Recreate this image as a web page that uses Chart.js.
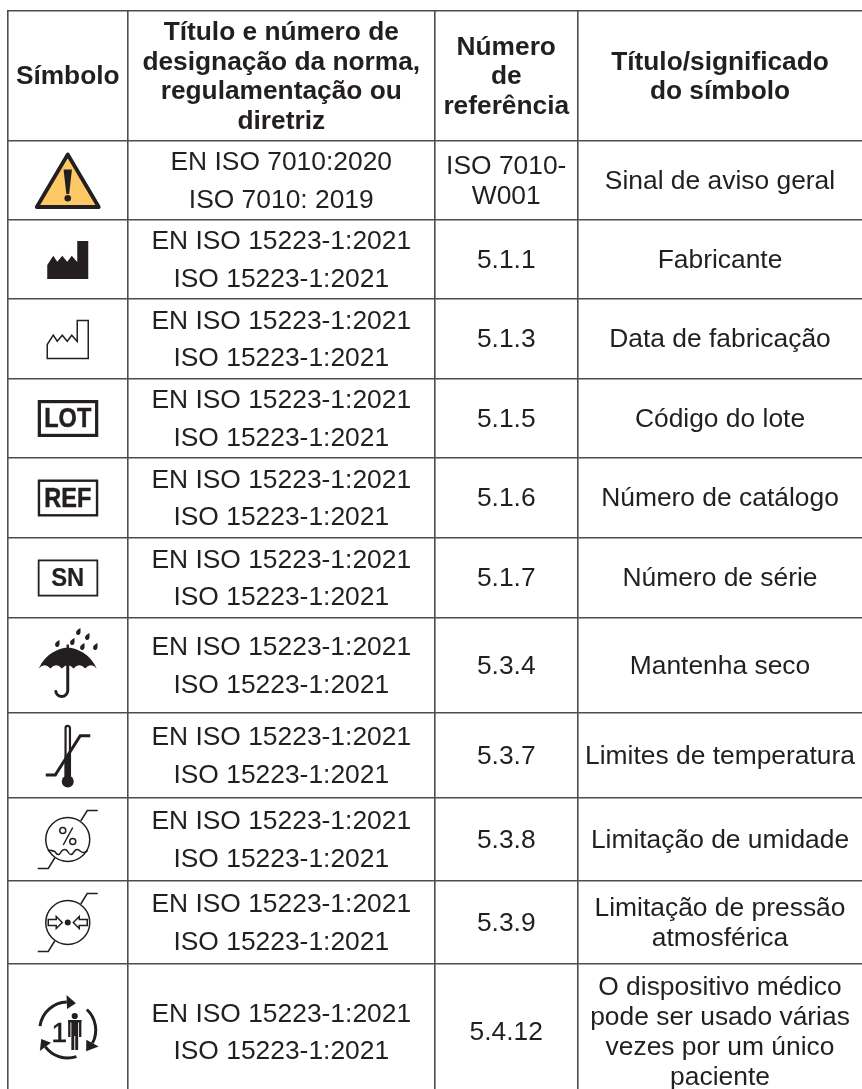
<!DOCTYPE html>
<html lang="pt">
<head>
<meta charset="utf-8">
<title>Símbolos</title>
<script src="https://cdn.jsdelivr.net/npm/chart.js@4/dist/chart.umd.min.js"></script>
<style>
  html, body { margin: 0; padding: 0; background: #fff; }
  canvas { display: block; }
</style>
</head>
<body>
<canvas id="tableChart" width="862" height="1089"></canvas>
<script>
// table content
const headers = [
    ["Símbolo"],
    ["Título e número de", "designação da norma,", "regulamentação ou", "diretriz"],
    ["Número", "de", "referência"],
    ["Título/significado", "do símbolo"]
];
const symbols = ["warning", "factory", "factoryOutline", "LOT", "REF", "SN", "umbrella", "temperature", "humidity", "pressure", "patient"];
const standards = [
    ["EN ISO 7010:2020", "ISO 7010: 2019"],
    ["EN ISO 15223-1:2021", "ISO 15223-1:2021"],
    ["EN ISO 15223-1:2021", "ISO 15223-1:2021"],
    ["EN ISO 15223-1:2021", "ISO 15223-1:2021"],
    ["EN ISO 15223-1:2021", "ISO 15223-1:2021"],
    ["EN ISO 15223-1:2021", "ISO 15223-1:2021"],
    ["EN ISO 15223-1:2021", "ISO 15223-1:2021"],
    ["EN ISO 15223-1:2021", "ISO 15223-1:2021"],
    ["EN ISO 15223-1:2021", "ISO 15223-1:2021"],
    ["EN ISO 15223-1:2021", "ISO 15223-1:2021"],
    ["EN ISO 15223-1:2021", "ISO 15223-1:2021"]
];
const refNumbers = [["ISO 7010-", "W001"], ["5.1.1"], ["5.1.3"], ["5.1.5"], ["5.1.6"], ["5.1.7"], ["5.3.4"], ["5.3.7"], ["5.3.8"], ["5.3.9"], ["5.4.12"]];
const meanings = [
    ["Sinal de aviso geral"],
    ["Fabricante"],
    ["Data de fabricação"],
    ["Código do lote"],
    ["Número de catálogo"],
    ["Número de série"],
    ["Mantenha seco"],
    ["Limites de temperatura"],
    ["Limitação de umidade"],
    ["Limitação de pressão", "atmosférica"],
    ["O dispositivo médico", "pode ser usado várias", "vezes por um único", "paciente"]
];

// cell edges on the two axes, the last row runs past the bottom of the page
const colEdges = [7.5, 128, 434.5, 578, 862];
const rowEdges = [11, 141, 220, 299, 379, 458, 538, 618, 713, 798, 881, 964, 1100];

const ink = "#231f20";
const lineColor = "#4d4d4f";
const mid = (edges, i) => (edges[i] + edges[i + 1]) / 2;

// one scatter dataset per column, the points are the cell centres
function columnDataset(col, cells) {
    return {
        label: "col" + col,
        cells: cells,
        pointRadius: 0,
        data: cells.map((c, i) => ({ x: mid(colEdges, col), y: mid(rowEdges, i) }))
    };
}

// icons are drawn around the cell centre (cx, cy)
const icons = {
    warning(c) {
        c.beginPath(); c.moveTo(0, -26); c.lineTo(31, 26.5); c.lineTo(-31, 26.5); c.closePath();
        c.fillStyle = "#fdc966"; c.fill();
        c.lineWidth = 3.8; c.lineJoin = "round"; c.stroke();
        c.fillStyle = ink;
        c.beginPath(); c.moveTo(-4.2, -11); c.lineTo(4.2, -11); c.lineTo(1.4, 13.5); c.lineTo(-1.4, 13.5); c.closePath(); c.fill();
        c.beginPath(); c.arc(0, 17.8, 3.3, 0, 7); c.fill();
    },
    factory(c) {
        factoryPath(c); c.fill();
    },
    factoryOutline(c) {
        factoryPath(c); c.lineWidth = 1.5; c.stroke();
    },
    LOT(c) { boxLabel(c, "LOT", 3.2, 28, 0.84, 0.5); },
    REF(c) { boxLabel(c, "REF", 2.4, 28, 0.84, 0.5); },
    SN(c) { boxLabel(c, "SN", 1.8, 25, 0.95, 0.2); },
    umbrella(c) {
        c.beginPath();
        c.moveTo(-29, 3);
        c.bezierCurveTo(-22, -12, -10, -17, 0, -18);
        c.bezierCurveTo(10, -17, 22, -12, 29, 3);
        for (let i = 0; i < 5; i++) {
            const a = 29 - i * 11.6;
            c.quadraticCurveTo(a - 5.8, -3.5, a - 11.6, 3);
        }
        c.closePath(); c.fill();
        c.fillRect(-1.2, -21, 2.4, 4);
        c.lineWidth = 3; c.lineCap = "round";
        c.beginPath(); c.moveTo(0, -2); c.lineTo(0, 25);
        c.arc(-6, 25, 6, 0, Math.PI * 0.95); c.stroke();
        c.lineCap = "butt";
        [[11, -34], [20, -29], [5, -24], [-10, -22], [15, -19], [28, -19]].forEach(d => {
            c.save(); c.translate(d[0], d[1]); c.rotate(0.45);
            c.beginPath(); c.moveTo(0, -3.8);
            c.quadraticCurveTo(3, 1, 2, 2); c.arc(0, 1.4, 2.1, 0, Math.PI);
            c.quadraticCurveTo(-3, 1, 0, -3.8); c.fill();
            c.restore();
        });
    },
    temperature(c) {
        c.lineWidth = 3;
        c.lineJoin = "miter";
        c.beginPath(); c.moveTo(22.5, -19.8); c.lineTo(12.5, -19.8); c.lineTo(-12.5, 19.5); c.lineTo(-22, 19.5); c.stroke();
        c.lineWidth = 2.2;
        c.beginPath(); c.moveTo(-2.2, 22); c.lineTo(-2.2, -27.5); c.arc(0, -27.5, 2.2, Math.PI, 0); c.lineTo(2.2, 22); c.stroke();
        c.fillRect(-3, 0, 6, 22);
        c.beginPath(); c.arc(0, 26, 6, 0, 7); c.fill();
    },
    humidity(c) {
        limitRing(c);
        c.lineWidth = 1.5;
        c.beginPath(); c.moveTo(5, -12); c.lineTo(-4.5, 5.5); c.stroke();
        c.beginPath(); c.arc(-5, -9, 3, 0, 7); c.stroke();
        c.beginPath(); c.arc(5, 2, 3, 0, 7); c.stroke();
        c.beginPath(); c.moveTo(-20, 11);
        c.quadraticCurveTo(-16.5, 10.5, -13, 12); c.quadraticCurveTo(-9, 18, -6.5, 12);
        c.quadraticCurveTo(-3, 8, 0, 12); c.quadraticCurveTo(3, 18, 6.5, 12);
        c.quadraticCurveTo(9, 8, 13, 12); c.quadraticCurveTo(16.5, 14.5, 20, 11);
        c.stroke();
    },
    pressure(c) {
        limitRing(c);
        c.lineWidth = 1.5;
        [1, -1].forEach(s => {
            c.save(); c.scale(s, 1);
            c.beginPath();
            c.moveTo(-5.5, 0); c.lineTo(-11.5, -6); c.lineTo(-11.5, -3); c.lineTo(-19.5, -3);
            c.lineTo(-19.5, 3); c.lineTo(-11.5, 3); c.lineTo(-11.5, 6); c.closePath(); c.stroke();
            c.restore();
        });
        c.beginPath(); c.arc(0, 0, 3, 0, 7); c.fill();
    },
    patient(c) {
        c.save();
        c.translate(0, -2);
        c.lineWidth = 3;
        arcArrow(c, 188, 268, 287);
        arcArrow(c, 313, 388, 409);
        arcArrow(c, 72, 143, 161);
        c.restore();
        c.font = "28px 'Liberation Sans'";
        c.textAlign = "center"; c.textBaseline = "middle";
        c.lineWidth = 0.6;
        c.fillText("1", -8.5, 2);
        c.strokeText("1", -8.5, 2);
        c.beginPath(); c.arc(7, -16, 3.1, 0, 7); c.fill();
        c.fillRect(0.4, -12, 13.2, 2.5);
        c.fillRect(0.4, -12, 2.3, 17);
        c.fillRect(11.3, -12, 2.3, 17);
        c.fillRect(3.6, -12, 6.8, 30);
        c.fillStyle = "#fff";
        c.fillRect(6.5, 4, 1, 14);
    }
};

function factoryPath(c) {
    c.beginPath();
    c.moveTo(-20.5, 19.5); c.lineTo(-20.5, 5.5); c.lineTo(-14.5, -3.8);
    c.lineTo(-10.5, 2.2); c.lineTo(-5.5, -3.8); c.lineTo(-0.5, 2.2); c.lineTo(4, -3.8); c.lineTo(9.5, 2.6);
    c.lineTo(9.5, -18.5); c.lineTo(20.5, -18.5); c.lineTo(20.5, 19.5);
    c.closePath();
}

function boxLabel(c, text, lw, size, squeeze, weight) {
    c.lineWidth = lw;
    c.strokeRect(-30 + lw / 2, -18.5 + lw / 2, 60.5 - lw, 37 - lw);
    c.font = "bold " + size + "px 'Liberation Sans'";
    c.textAlign = "center"; c.textBaseline = "middle";
    c.scale(squeeze, 1);
    c.lineWidth = weight;
    c.fillText(text, 0, 1);
    c.strokeText(text, 0, 1);
}

function limitRing(c) {
    c.lineWidth = 1.5;
    c.beginPath(); c.arc(0, 0, 22, 0, 7); c.stroke();
    c.beginPath(); c.moveTo(13, -18.5); c.lineTo(19.5, -29); c.lineTo(30, -29); c.stroke();
    c.beginPath(); c.moveTo(-13, 18.5); c.lineTo(-19.5, 29); c.lineTo(-30, 29); c.stroke();
}

function arcArrow(c, from, to, tip) {
    const r = 28, rad = d => d * Math.PI / 180;
    c.beginPath(); c.arc(0, 0, r, rad(from), rad(to)); c.stroke();
    const a = rad(to), t = rad(tip);
    c.beginPath();
    c.moveTo(Math.cos(a) * (r - 7), Math.sin(a) * (r - 7));
    c.lineTo(Math.cos(t) * r, Math.sin(t) * r);
    c.lineTo(Math.cos(a) * (r + 7), Math.sin(a) * (r + 7));
    c.closePath(); c.fill();
}

const cellPlugin = {
    id: "cellPlugin",
    afterDatasetsDraw(chart) {
        const ctx = chart.ctx;
        ctx.save();
        ctx.fillStyle = ink;
        ctx.strokeStyle = ink;
        chart.data.datasets.forEach((ds, d) => {
            const points = chart.getDatasetMeta(d).data;
            ds.cells.forEach((cell, i) => {
                const p = points[i];
                if (typeof cell === "string") {
                    ctx.save();
                    ctx.translate(p.x, p.y);
                    icons[cell](ctx);
                    ctx.restore();
                    return;
                }
                const head = i === 0;
                const step = !head && cell.length === 2 && d === 1 ? 37.5 : (head ? 29.5 : 30);
                ctx.font = (head ? "bold 26.3px" : "26.4px") + " 'Liberation Sans'";
                ctx.textAlign = "center";
                ctx.textBaseline = "middle";
                cell.forEach((line, k) => {
                    ctx.fillText(line, p.x, p.y + (k - (cell.length - 1) / 2) * step + 1);
                });
            });
        });
        ctx.restore();
    }
};

// the first row of every column is the header
const datasets = [
    columnDataset(0, [headers[0]].concat(symbols)),
    columnDataset(1, [headers[1]].concat(standards)),
    columnDataset(2, [headers[2]].concat(refNumbers)),
    columnDataset(3, [headers[3]].concat(meanings))
];

function edgeAxis(edges, min, max, reverse, lastEdge) {
    return {
        type: "linear",
        min: min,
        max: max,
        reverse: reverse,
        afterBuildTicks: axis => { axis.ticks = edges.filter(v => v <= lastEdge).map(v => ({ value: v })); },
        ticks: { display: false },
        border: { display: false },
        grid: { drawTicks: false, color: lineColor, lineWidth: 1.6 }
    };
}

new Chart(document.getElementById("tableChart").getContext("2d"), {
    type: "scatter",
    data: { datasets: datasets },
    options: {
        responsive: false,
        animation: false,
        layout: { padding: { left: 7, top: 10, right: 0, bottom: 0 } },
        plugins: { legend: { display: false }, tooltip: { enabled: false } },
        scales: {
            x: edgeAxis(colEdges, 7, 862, false, 861),
            y: edgeAxis(rowEdges, 10, 1089, true, 1089)
        }
    },
    plugins: [cellPlugin]
});
</script>
</body>
</html>
